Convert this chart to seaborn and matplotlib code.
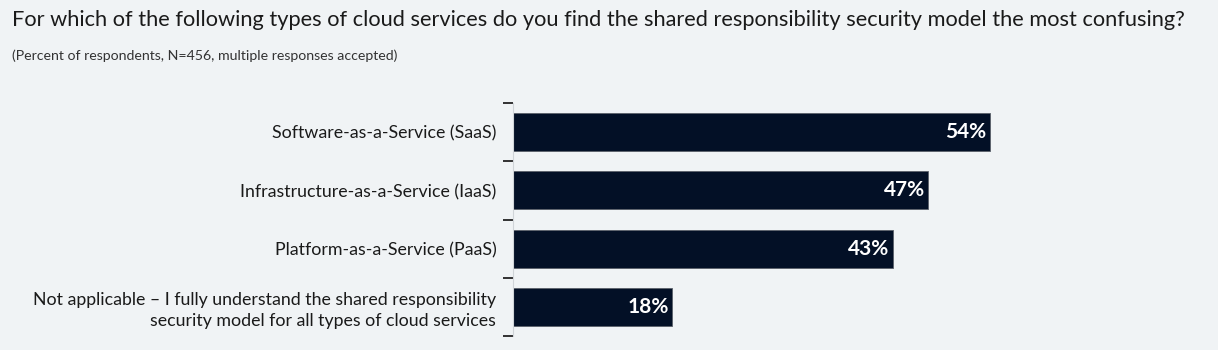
import matplotlib
matplotlib.use("Agg")
import matplotlib.pyplot as plt
import seaborn as sns
import pandas as pd
import numpy as np

categories = [
    "Software-as-a-Service (SaaS)",
    "Infrastructure-as-a-Service (IaaS)",
    "Platform-as-a-Service (PaaS)",
    "Not applicable – I fully understand the shared responsibility\nsecurity model for all types of cloud services",
]
values = [54, 47, 43, 18]

title = "For which of the following types of cloud services do you find the shared responsibility security model the most confusing?"
subtitle = "(Percent of respondents, N=456, multiple responses accepted)"

bg = "#f0f3f5"
bar_color = "#031026"

sns.set_theme(style="white")
plt.rcParams["font.family"] = ["Lato", "DejaVu Sans"]

df = pd.DataFrame({"category": categories, "value": values})

fig = plt.figure(figsize=(12.18, 3.5), dpi=100, facecolor=bg)
ax = fig.add_axes([513 / 1218, 1 - 336 / 350, (1218 - 513) / 1218, (336 - 103) / 350])
ax.set_facecolor(bg)

sns.barplot(data=df, x="value", y="category", color=bar_color, width=0.65,
            saturation=1, ax=ax, edgecolor="#5a606a", linewidth=0.6)

ax.set_xlim(0, (1218 - 513) / ((990 - 513) / 54))
ax.set_ylim(len(categories) - 0.5, -0.5)
ax.set_xlabel("")
ax.set_ylabel("")
ax.set_xticks([])

for i, v in enumerate(values):
    ax.text(v - 0.4, i, f"{v}%", color="white", fontsize=15, fontweight="bold",
            ha="right", va="center")

ax.tick_params(axis="y", which="major", left=False, length=0, pad=12, labelsize=12.8,
               labelcolor="#1a1a1a")
ax.set_yticks(np.arange(-0.5, len(categories), 1), minor=True)
ax.tick_params(axis="y", which="minor", left=True, length=7, width=1.2,
               color="#111111", direction="out")
for lbl in ax.get_yticklabels():
    lbl.set_multialignment("right")
    lbl.set_linespacing(1.35)

for s in ["top", "right", "bottom"]:
    ax.spines[s].set_visible(False)
ax.spines["left"].set_color("#d0d4d8")
ax.spines["left"].set_linewidth(0.8)

fig.text(12 / 1218, 1 - 20 / 350, title, fontsize=15.7, color="#1a1a1a", ha="left", va="center")
fig.text(12 / 1218, 1 - 56 / 350, subtitle, fontsize=10.2, color="#333333", ha="left", va="center")

fig.savefig("out.png", dpi=100, facecolor=bg)
